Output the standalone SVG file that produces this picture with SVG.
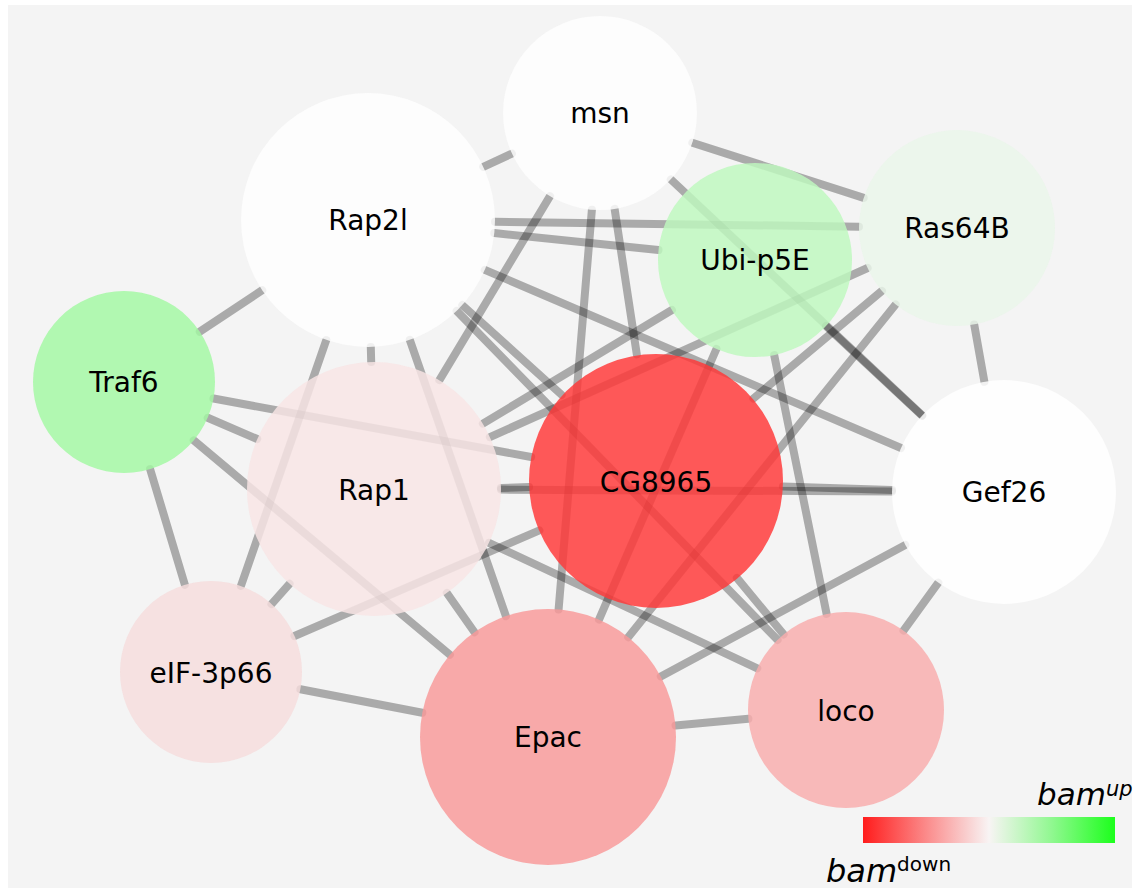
<svg xmlns="http://www.w3.org/2000/svg" width="1140" height="893" viewBox="0 0 1140 893">
<defs>
<linearGradient id="legendGrad" x1="0" y1="0" x2="1" y2="0">
<stop offset="0" stop-color="#ff1c1c"/>
<stop offset="0.25" stop-color="#fb8a8a"/>
<stop offset="0.5" stop-color="#f8f4f4"/>
<stop offset="0.75" stop-color="#90f890"/>
<stop offset="1" stop-color="#1cff1c"/>
</linearGradient>
</defs>
<style>
.edge { stroke: #000; stroke-opacity: 0.3; stroke-width: 8; stroke-linecap: round; fill: none; }
.node circle { fill-opacity: 0.84; stroke: none; }
.label { font-family: "DejaVu Sans", "Liberation Sans", sans-serif; font-size: 28px; fill: #000; text-anchor: middle; }
.leg { font-family: "DejaVu Sans", "Liberation Sans", sans-serif; fill: #000; }
</style>
<rect x="0" y="0" width="1140" height="893" fill="#ffffff"/>
<rect x="8" y="5" width="1124" height="883" fill="#f4f4f4"/>
<g id="edges">
<line class="edge" x1="511.9" y1="153.6" x2="483.3" y2="166.8"/>
<line class="edge" x1="692.3" y1="142.7" x2="863.7" y2="197.9"/>
<line class="edge" x1="670.8" y1="179.4" x2="922.3" y2="415.4"/>
<line class="edge" x1="550.0" y1="196.1" x2="439.4" y2="380.1"/>
<line class="edge" x1="591.9" y1="209.7" x2="558.6" y2="609.4"/>
<line class="edge" x1="614.6" y1="208.9" x2="636.8" y2="354.4"/>
<line class="edge" x1="495.0" y1="221.7" x2="859.0" y2="226.7"/>
<line class="edge" x1="494.3" y1="233.1" x2="658.5" y2="250.0"/>
<line class="edge" x1="484.8" y1="269.9" x2="901.0" y2="448.0"/>
<line class="edge" x1="262.2" y1="290.2" x2="199.8" y2="331.7"/>
<line class="edge" x1="370.8" y1="347.0" x2="371.2" y2="362.0"/>
<line class="edge" x1="326.3" y1="340.0" x2="240.9" y2="586.0"/>
<line class="edge" x1="409.8" y1="339.9" x2="505.9" y2="616.1"/>
<line class="edge" x1="462.3" y1="305.1" x2="561.7" y2="394.9"/>
<line class="edge" x1="456.7" y1="310.9" x2="777.6" y2="639.9"/>
<line class="edge" x1="213.5" y1="398.5" x2="531.1" y2="457.0"/>
<line class="edge" x1="207.7" y1="417.8" x2="257.2" y2="439.0"/>
<line class="edge" x1="193.8" y1="440.4" x2="449.9" y2="654.8"/>
<line class="edge" x1="150.1" y1="469.2" x2="184.9" y2="584.8"/>
<line class="edge" x1="500.9" y1="487.9" x2="529.1" y2="487.1"/>
<line class="edge" x1="501.0" y1="489.6" x2="892.0" y2="491.5"/>
<line class="edge" x1="482.9" y1="423.6" x2="671.9" y2="310.0"/>
<line class="edge" x1="489.9" y1="437.1" x2="867.6" y2="268.0"/>
<line class="edge" x1="446.9" y1="593.0" x2="474.5" y2="632.2"/>
<line class="edge" x1="489.0" y1="542.8" x2="757.3" y2="668.4"/>
<line class="edge" x1="289.5" y1="583.8" x2="271.5" y2="604.1"/>
<line class="edge" x1="826.0" y1="326.1" x2="922.0" y2="415.6"/>
<line class="edge" x1="716.4" y1="349.0" x2="599.0" y2="619.6"/>
<line class="edge" x1="774.2" y1="355.1" x2="826.6" y2="613.9"/>
<line class="edge" x1="881.9" y1="290.9" x2="753.4" y2="398.5"/>
<line class="edge" x1="895.6" y1="304.4" x2="628.2" y2="637.2"/>
<line class="edge" x1="974.2" y1="324.5" x2="984.4" y2="381.7"/>
<line class="edge" x1="782.9" y1="486.4" x2="892.1" y2="490.1"/>
<line class="edge" x1="539.4" y1="530.3" x2="294.5" y2="636.0"/>
<line class="edge" x1="736.9" y1="577.9" x2="783.6" y2="634.4"/>
<line class="edge" x1="660.8" y1="676.4" x2="905.3" y2="545.0"/>
<line class="edge" x1="675.5" y1="725.5" x2="748.4" y2="718.8"/>
<line class="edge" x1="422.3" y1="712.8" x2="300.4" y2="689.2"/>
<line class="edge" x1="938.3" y1="582.7" x2="903.5" y2="630.6"/>
</g>
<g id="node-msn" class="node"><circle cx="600" cy="113" r="97" fill="#fefefe"/><text class="label" x="600" y="123">msn</text></g>
<g id="node-Rap2l" class="node"><circle cx="368" cy="220" r="127" fill="#fefefe"/><text class="label" x="368" y="230">Rap2l</text></g>
<g id="node-Ubi-p5E" class="node"><circle cx="755" cy="260" r="97" fill="#bff8bf"/><text class="label" x="755" y="270">Ubi-p5E</text></g>
<g id="node-Ras64B" class="node"><circle cx="957" cy="228" r="98" fill="#e9f5e9"/><text class="label" x="957" y="238">Ras64B</text></g>
<g id="node-Traf6" class="node"><circle cx="124" cy="382" r="91" fill="#a3f8a3"/><text class="label" x="124" y="392">Traf6</text></g>
<g id="node-Rap1" class="node"><circle cx="374" cy="489" r="127" fill="#f8e5e5"/><text class="label" x="374" y="500">Rap1</text></g>
<g id="node-CG8965" class="node"><circle cx="656" cy="481" r="127" fill="#ff3939"/><text class="label" x="656" y="492">CG8965</text></g>
<g id="node-Gef26" class="node"><circle cx="1004" cy="492" r="112" fill="#ffffff"/><text class="label" x="1004" y="502">Gef26</text></g>
<g id="node-eIF-3p66" class="node"><circle cx="211" cy="672" r="91" fill="#f6dcdc"/><text class="label" x="211" y="683">eIF-3p66</text></g>
<g id="node-Epac" class="node"><circle cx="548" cy="737" r="128" fill="#f89a9a"/><text class="label" x="548" y="747">Epac</text></g>
<g id="node-loco" class="node"><circle cx="846" cy="710" r="98" fill="#f8adad"/><text class="label" x="846" y="721">loco</text></g>
<g id="legend">
<rect x="863" y="817" width="252" height="26" fill="url(#legendGrad)"/>
<text class="leg" x="1037" y="805" font-size="31" font-style="italic">bam<tspan font-size="21" dy="-9">up</tspan></text>
<text class="leg" x="826" y="882" font-size="32" font-style="italic">bam<tspan font-size="20" font-style="normal" dy="-11">down</tspan></text>
</g>
</svg>
